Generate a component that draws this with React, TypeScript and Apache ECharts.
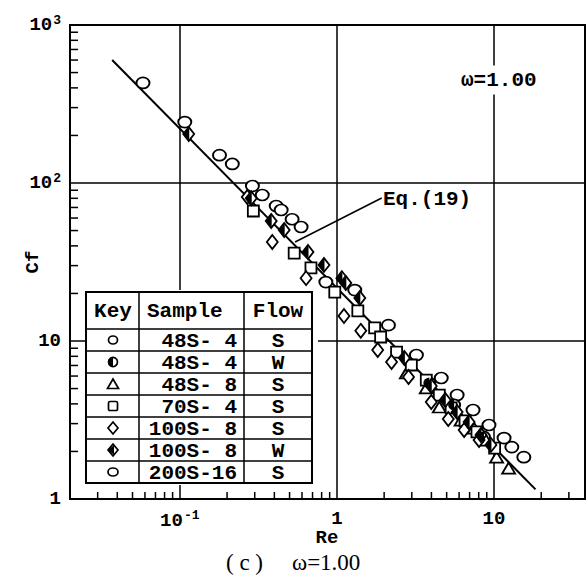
import React, { useEffect, useRef } from 'react';
import * as echarts from 'echarts';

// ---------- data ----------
const xMinorTicks = [0.03, 0.04, 0.05, 0.06, 0.07, 0.08, 0.09, 0.2, 0.3, 0.4, 0.5, 0.6, 0.7, 0.8, 0.9, 2, 3, 4, 5, 6, 7, 8, 9, 20, 30];
const yMinorTicks = [2, 3, 4, 5, 6, 7, 8, 9, 20, 30, 40, 50, 60, 70, 80, 90, 200, 300, 400, 500, 600, 700, 800, 900];

const eqLineRe = [0.0371, 18.4];
const eqLineCf = [600, 1.15];
const leaderRe = [1.93, 0.542];
const leaderCf = [80.4, 42.3];

const c48S4Re = [0.851, 1.30, 2.13, 3.21, 4.62, 5.83, 7.36, 9.30, 11.6, 13.0, 15.5];
const c48S4Cf = [23.6, 21.0, 12.6, 8.15, 5.83, 4.55, 3.66, 2.94, 2.43, 2.13, 1.84];
const c48W4Re = [3.88, 5.58, 8.64];
const c48W4Cf = [5.42, 3.94, 2.47];
const t48S8Re = [2.77, 3.71, 4.49, 6.18, 7.47, 8.90, 10.4, 12.4];
const t48S8Cf = [6.27, 5.05, 3.82, 3.16, 2.81, 2.36, 1.84, 1.57];
const s70S4Re = [0.294, 0.535, 0.684, 0.97, 1.36, 1.74, 1.90, 2.40, 2.98, 3.71, 4.49, 5.34, 6.55, 7.80, 10.1];
const s70S4Cf = [66.5, 36, 29, 20.4, 15.5, 12.1, 10.6, 8.5, 7.05, 5.66, 4.55, 3.77, 3.12, 2.66, 2.10];
const d100S8Re = [0.269, 0.388, 0.637, 1.11, 1.42, 1.82, 2.23, 2.86, 3.99, 5.12, 6.46, 8.04];
const d100S8Cf = [81.5, 42.3, 25, 14.4, 11.6, 8.77, 7.36, 5.92, 4.11, 3.21, 2.73, 2.36];
const d100W8Re = [0.114, 0.285, 0.382, 0.462, 0.655, 0.828, 1.076, 1.14, 1.40, 2.69, 3.99, 4.90, 5.83, 6.95, 8.27, 9.57];
const d100W8Cf = [204, 80, 57.5, 50.4, 36.6, 30.3, 25, 23.3, 18.7, 7.8, 5.19, 4.23, 3.55, 3.07, 2.54, 2.20];
const c200S16Re = [0.0583, 0.1076, 0.179, 0.216, 0.290, 0.335, 0.411, 0.442, 0.519, 0.592];
const c200S16Cf = [430, 243, 150, 132, 95.7, 84, 71.5, 67.5, 59, 52.7];

const tableHeader = ['Key', 'Sample', 'Flow'];
const tableSamples = ['48S- 4', '48S- 4', '48S- 8', '70S- 4', '100S- 8', '100S- 8', '200S-16'];
const tableFlows = ['S', 'W', 'S', 'S', 'S', 'W', 'S'];

const MONO = 'Liberation Mono';
const SERIF = 'Liberation Serif';

const zip = (a: number[], b: number[]) => a.map((v, i) => [v, b[i]]);

const ELLIPSE = 'path://M0,5A6,5 0 1 1 12,5A6,5 0 1 1 0,5Z';
const LEFT_HALF_TRI = 'path://M10,0L10,20L0,10Z';
const LEFT_HALF_CIRC = 'path://M10,0A10,10 0 0 0 10,20Z';

const supRich = {
  b: { fontSize: 19, fontFamily: MONO, fontWeight: 'bold', color: '#000' },
  s: { fontSize: 13, fontFamily: MONO, fontWeight: 'bold', color: '#000', padding: [0, 0, 10, 1] },
};

function decadeLabel(v: number): string {
  const e = Math.round(Math.log10(v));
  const p = Math.pow(10, e);
  if (Math.abs(v - p) > 1e-6 * p) return '';
  if (e === 0) return '{b|1}';
  if (e === 1) return '{b|10}';
  return `{b|10}{s|${e}}`;
}

function buildTable() {
  const L = 86, T = 292, R = 312, B = 483, c1 = 139, c2 = 244, hb = 329, rh = 22;
  const els: any[] = [];
  els.push({ type: 'rect', z: 100, shape: { x: L - 1, y: T - 2, width: R - L + 7, height: B - T + 4 }, style: { fill: '#fff' } });
  els.push({ type: 'rect', z: 101, shape: { x: L, y: T, width: R - L, height: B - T }, style: { fill: '#fff', stroke: '#000', lineWidth: 2 } });
  els.push({ type: 'line', z: 102, shape: { x1: c1, y1: T, x2: c1, y2: B }, style: { stroke: '#000', lineWidth: 1.5 } });
  els.push({ type: 'line', z: 102, shape: { x1: c2, y1: T, x2: c2, y2: B }, style: { stroke: '#000', lineWidth: 1.5 } });
  for (let i = 0; i < 7; i++) {
    const y = hb + i * rh;
    els.push({ type: 'line', z: 102, shape: { x1: L, y1: y, x2: R, y2: y }, style: { stroke: '#000', lineWidth: 1.5 } });
  }
  const tstyle = (x: number, y: number, text: string, align: string) => ({
    type: 'text', z: 103, x, y,
    style: { text, fill: '#000', font: `bold 21px "${MONO}"`, textAlign: align, textVerticalAlign: 'middle' },
  });
  const hy = (T + hb) / 2 + 1;
  els.push(tstyle(113, hy, tableHeader[0], 'center'));
  els.push(tstyle(147, hy, tableHeader[1], 'left'));
  els.push(tstyle(278, hy, tableHeader[2], 'center'));
  for (let i = 0; i < 7; i++) {
    const cy = hb + i * rh + rh / 2 + 1;
    els.push(tstyle(237, cy, tableSamples[i], 'right'));
    els.push(tstyle(278, cy, tableFlows[i], 'center'));
  }
  const cx = 113;
  const ky = (i: number) => hb + i * rh + rh / 2;
  const st = { fill: '#fff', stroke: '#000', lineWidth: 1.7 };
  els.push({ type: 'ellipse', z: 104, shape: { cx, cy: ky(0), rx: 4.5, ry: 4 }, style: st });
  els.push({ type: 'circle', z: 104, shape: { cx, cy: ky(1), r: 4.5 }, style: st });
  els.push({ type: 'sector', z: 105, shape: { cx, cy: ky(1), r: 4.5, r0: 0, startAngle: Math.PI / 2, endAngle: Math.PI * 1.5, clockwise: true }, style: { fill: '#000' } });
  els.push({ type: 'polygon', z: 104, shape: { points: [[cx - 5.5, ky(2) + 4.5], [cx + 5.5, ky(2) + 4.5], [cx, ky(2) - 5]] }, style: st });
  els.push({ type: 'rect', z: 104, shape: { x: cx - 4.5, y: ky(3) - 4.5, width: 9, height: 9, r: 1.5 }, style: st });
  els.push({ type: 'polygon', z: 104, shape: { points: [[cx, ky(4) - 6], [cx + 5, ky(4)], [cx, ky(4) + 6], [cx - 5, ky(4)]] }, style: st });
  els.push({ type: 'polygon', z: 104, shape: { points: [[cx, ky(5) - 6], [cx + 5, ky(5)], [cx, ky(5) + 6], [cx - 5, ky(5)]] }, style: st });
  els.push({ type: 'polygon', z: 105, shape: { points: [[cx + 1, ky(5) - 5], [cx - 5, ky(5)], [cx + 1, ky(5) + 5]] }, style: { fill: '#000' } });
  els.push({ type: 'ellipse', z: 104, shape: { cx, cy: ky(6), rx: 5, ry: 4 }, style: st });
  return els;
}

const markerStyle = { color: '#fff', borderColor: '#000', borderWidth: 1.8, opacity: 1 };

export default function App() {
  const ref = useRef<HTMLDivElement>(null);
  useEffect(() => {
    if (!ref.current) return;
    const chart = echarts.init(ref.current, undefined, { renderer: 'svg' });
    const scatter = (name: string, data: number[][], symbol: string, size: any, extra: any = {}) => ({
      type: 'scatter', name, data, symbol, symbolSize: size, silent: true, z: 3,
      itemStyle: markerStyle, ...extra,
    });
    const option: any = {
      animation: false,
      backgroundColor: '#fff',
      grid: { left: 70, top: 25, width: 517, height: 474, show: true, borderColor: '#000', borderWidth: 2 },
      xAxis: {
        type: 'log', logBase: 10, min: 0.02, max: 38,
        axisLine: { show: true, lineStyle: { color: '#000', width: 2 } },
        axisTick: { show: false },
        splitLine: { show: true, lineStyle: { color: '#000', width: 1.5 } },
        axisLabel: { margin: 10, formatter: decadeLabel, rich: supRich, color: '#000' },
      },
      yAxis: {
        type: 'log', logBase: 10, min: 1, max: 1000,
        axisLine: { show: true, lineStyle: { color: '#000', width: 2 } },
        axisTick: { show: false },
        splitLine: { show: true, lineStyle: { color: '#000', width: 1.5 } },
        axisLabel: { margin: 9, formatter: decadeLabel, rich: supRich, color: '#000' },
      },
      series: [
        {
          type: 'line', name: 'Eq.(19)', data: zip(eqLineRe, eqLineCf), symbol: 'none', silent: true, z: 2,
          lineStyle: { color: '#000', width: 2 },
        },
        {
          type: 'line', name: 'leader', data: zip(leaderRe, leaderCf), symbol: 'none', silent: true, z: 2,
          lineStyle: { color: '#000', width: 1.5 },
        },
        scatter('200S-16 S', zip(c200S16Re, c200S16Cf), ELLIPSE, [13, 11]),
        scatter('48S-4 S', zip(c48S4Re, c48S4Cf), ELLIPSE, [13, 11]),
        scatter('48S-4 W', zip(c48W4Re, c48W4Cf), ELLIPSE, [12, 11]),
        scatter('48S-4 W fill', zip(c48W4Re, c48W4Cf), LEFT_HALF_CIRC, [6, 11], { symbolOffset: [-3, 0], itemStyle: { color: '#000', opacity: 1 }, z: 4 }),
        scatter('48S-8 S', zip(t48S8Re, t48S8Cf), 'triangle', [13, 11]),
        scatter('70S-4 S', zip(s70S4Re, s70S4Cf), 'rect', [11, 11]),
        scatter('100S-8 S', zip(d100S8Re, d100S8Cf), 'diamond', [11, 14]),
        scatter('100S-8 W', zip(d100W8Re, d100W8Cf), 'diamond', [11, 14]),
        scatter('100S-8 W fill', zip(d100W8Re, d100W8Cf), LEFT_HALF_TRI, [6, 13], { symbolOffset: [-2.5, 0], itemStyle: { color: '#000', opacity: 1 }, z: 4 }),
      ],
    };
    chart.setOption(option);

    // minor ticks placed through the axes' own scales
    const ticks: any[] = [];
    const yBottom = chart.convertToPixel({ yAxisIndex: 0 }, 1) as number;
    const xLeft = chart.convertToPixel({ xAxisIndex: 0 }, 0.02) as number;
    xMinorTicks.forEach((v) => {
      const x = chart.convertToPixel({ xAxisIndex: 0 }, v) as number;
      ticks.push({ type: 'line', z: 50, shape: { x1: x, y1: yBottom, x2: x, y2: yBottom - 7 }, style: { stroke: '#000', lineWidth: 1.5 } });
    });
    yMinorTicks.forEach((v) => {
      const y = chart.convertToPixel({ yAxisIndex: 0 }, v) as number;
      ticks.push({ type: 'line', z: 50, shape: { x1: xLeft, y1: y, x2: xLeft + 8, y2: y }, style: { stroke: '#000', lineWidth: 1.5 } });
    });

    chart.setOption({
      graphic: [
        ...ticks,
        ...buildTable(),
        {
          type: 'text', z: 110, x: 33, y: 262, rotation: Math.PI / 2,
          style: { text: 'Cf', fill: '#000', font: `bold 19px "${MONO}"`, textAlign: 'center', textVerticalAlign: 'middle' },
        },
        {
          type: 'text', z: 110, x: 327, y: 538,
          style: { text: 'Re', fill: '#000', font: `bold 19px "${MONO}"`, textAlign: 'center', textVerticalAlign: 'middle' },
        },
        {
          type: 'text', z: 110, x: 383, y: 199,
          style: { text: 'Eq.(19)', fill: '#000', font: `bold 21px "${MONO}"`, textVerticalAlign: 'middle', backgroundColor: '#fff' },
        },
        {
          type: 'text', z: 110, x: 461, y: 80,
          style: { text: 'ω=1.00', fill: '#000', font: `bold 21px "${MONO}"`, textVerticalAlign: 'middle', backgroundColor: '#fff', padding: [4, 0, 4, 0] },
        },
        {
          type: 'text', z: 110, x: 226, y: 562,
          style: { text: '( c )', fill: '#000', font: `23px "${SERIF}"`, textVerticalAlign: 'middle' },
        },
        {
          type: 'text', z: 110, x: 292, y: 562,
          style: { text: 'ω=1.00', fill: '#000', font: `23px "${SERIF}"`, textVerticalAlign: 'middle' },
        },
      ],
    });
    return () => chart.dispose();
  }, []);
  return <div ref={ref} style={{ position: 'fixed', left: 0, top: 0, width: 588, height: 576 }} />;
}
